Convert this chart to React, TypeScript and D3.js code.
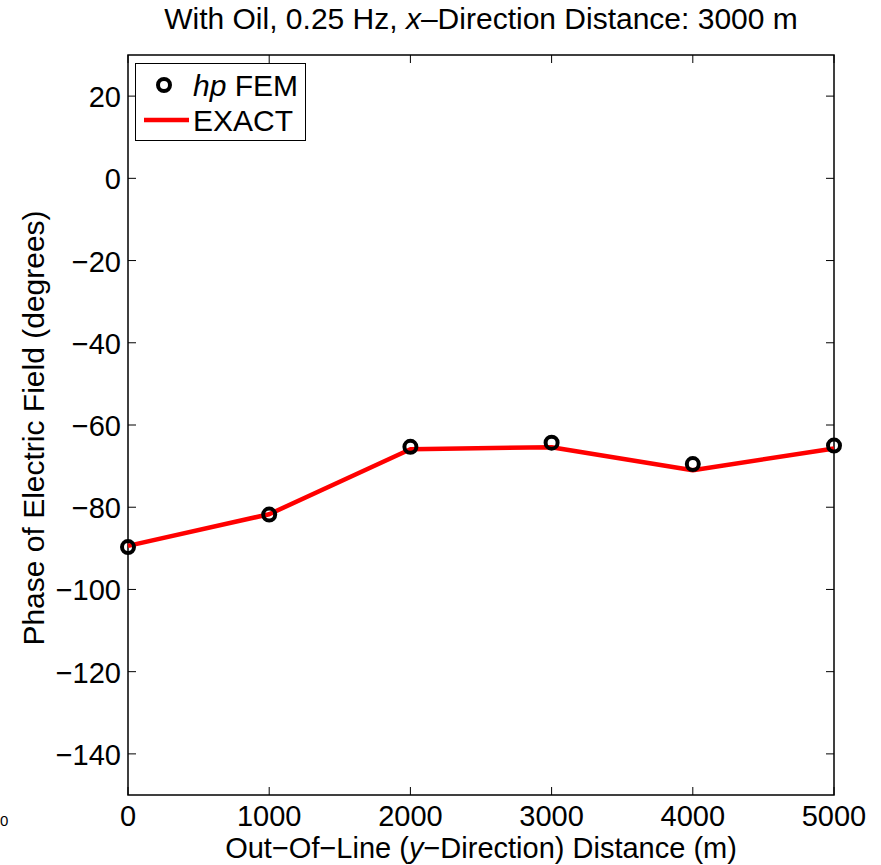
import React from "react";
import * as d3 from "d3";

const xValues = [0, 1000, 2000, 3000, 4000, 5000];
const femValues = [-89.7, -81.8, -65.3, -64.3, -69.5, -65.0];
const exactValues = [-89.4, -81.7, -65.9, -65.4, -71.0, -65.7];
const xTicks = [0, 1000, 2000, 3000, 4000, 5000];
const yTicks = [-140, -120, -100, -80, -60, -40, -20, 0, 20];

const W = 881;
const H = 865;
const left = 128;
const right = 834;
const top = 55;
const bottom = 795;
const FONT = "'Liberation Sans', Arial, Helvetica, sans-serif";
const FS = 30;
const TFS = 29;

const fmt = (v: number) => (v < 0 ? "\u2212" + Math.abs(v) : String(v));

export default function App() {
  const x = d3.scaleLinear().domain([0, 5000]).range([left, right]);
  const y = d3.scaleLinear().domain([-150, 30]).range([bottom, top]);
  const line = d3
    .line<number>()
    .x((_, i) => x(xValues[i]))
    .y((d) => y(d));
  const tick = 8;
  return (
    <svg
      width={W}
      height={H}
      style={{ position: "absolute", left: 0, top: 0, background: "#fff" }}
      fontFamily={FONT}
    >
      <rect x={0} y={0} width={W} height={H} fill="#fff" />
      {/* title */}
      <text x={481} y={29} fontSize={FS} textAnchor="middle" fill="#000">
        With Oil, 0.25 Hz, <tspan fontStyle="italic">x</tspan>
        {"\u2013Direction Distance: 3000 m"}
      </text>
      {/* stray label at left edge */}
      <text x={0} y={826} fontSize={FS * 0.5} textAnchor="start" fill="#000">
        0
      </text>
      {/* axes box */}
      <rect x={left} y={top} width={right - left} height={bottom - top} fill="none" stroke="#000" strokeWidth={1.5} />
      {xTicks.map((t) => (
        <g key={"x" + t}>
          <line x1={x(t)} x2={x(t)} y1={bottom} y2={bottom - tick} stroke="#000" strokeWidth={1} />
          <line x1={x(t)} x2={x(t)} y1={top} y2={top + tick} stroke="#000" strokeWidth={1} />
          <text x={x(t)} y={826} fontSize={TFS} textAnchor="middle" fill="#000">
            {t}
          </text>
        </g>
      ))}
      {yTicks.map((t) => (
        <g key={"y" + t}>
          <line x1={left} x2={left + tick} y1={y(t)} y2={y(t)} stroke="#000" strokeWidth={1} />
          <line x1={right} x2={right - tick} y1={y(t)} y2={y(t)} stroke="#000" strokeWidth={1} />
          <text x={121} y={y(t) + 11} fontSize={TFS} textAnchor="end" fill="#000">
            {fmt(t)}
          </text>
        </g>
      ))}
      {/* axis labels */}
      <text x={481} y={858} fontSize={TFS} textAnchor="middle" fill="#000">
        {"Out\u2212Of\u2212Line ("}
        <tspan fontStyle="italic">y</tspan>
        {"\u2212Direction) Distance (m)"}
      </text>
      <text
        transform={`translate(44, ${(top + bottom) / 2 + 3}) rotate(-90)`}
        fontSize={FS}
        textAnchor="middle"
        fill="#000"
      >
        Phase of Electric Field (degrees)
      </text>
      {/* exact line */}
      <path d={line(exactValues) || ""} fill="none" stroke="#ff0000" strokeWidth={4.5} strokeLinejoin="round" />
      {/* fem markers */}
      {femValues.map((v, i) => (
        <circle key={"c" + i} cx={x(xValues[i])} cy={y(v)} r={6} fill="none" stroke="#000" strokeWidth={4} />
      ))}
      {/* legend */}
      <rect x={135.5} y={63.5} width={170} height={77} fill="#fff" stroke="#000" strokeWidth={1} />
      <circle cx={164} cy={85} r={6} fill="none" stroke="#000" strokeWidth={4} />
      <text x={193} y={96} fontSize={FS} fill="#000">
        <tspan fontStyle="italic">hp</tspan> FEM
      </text>
      <line x1={144} x2={189} y1={120} y2={120} stroke="#ff0000" strokeWidth={4.5} />
      <text x={193} y={131} fontSize={FS} fill="#000">
        EXACT
      </text>
    </svg>
  );
}
